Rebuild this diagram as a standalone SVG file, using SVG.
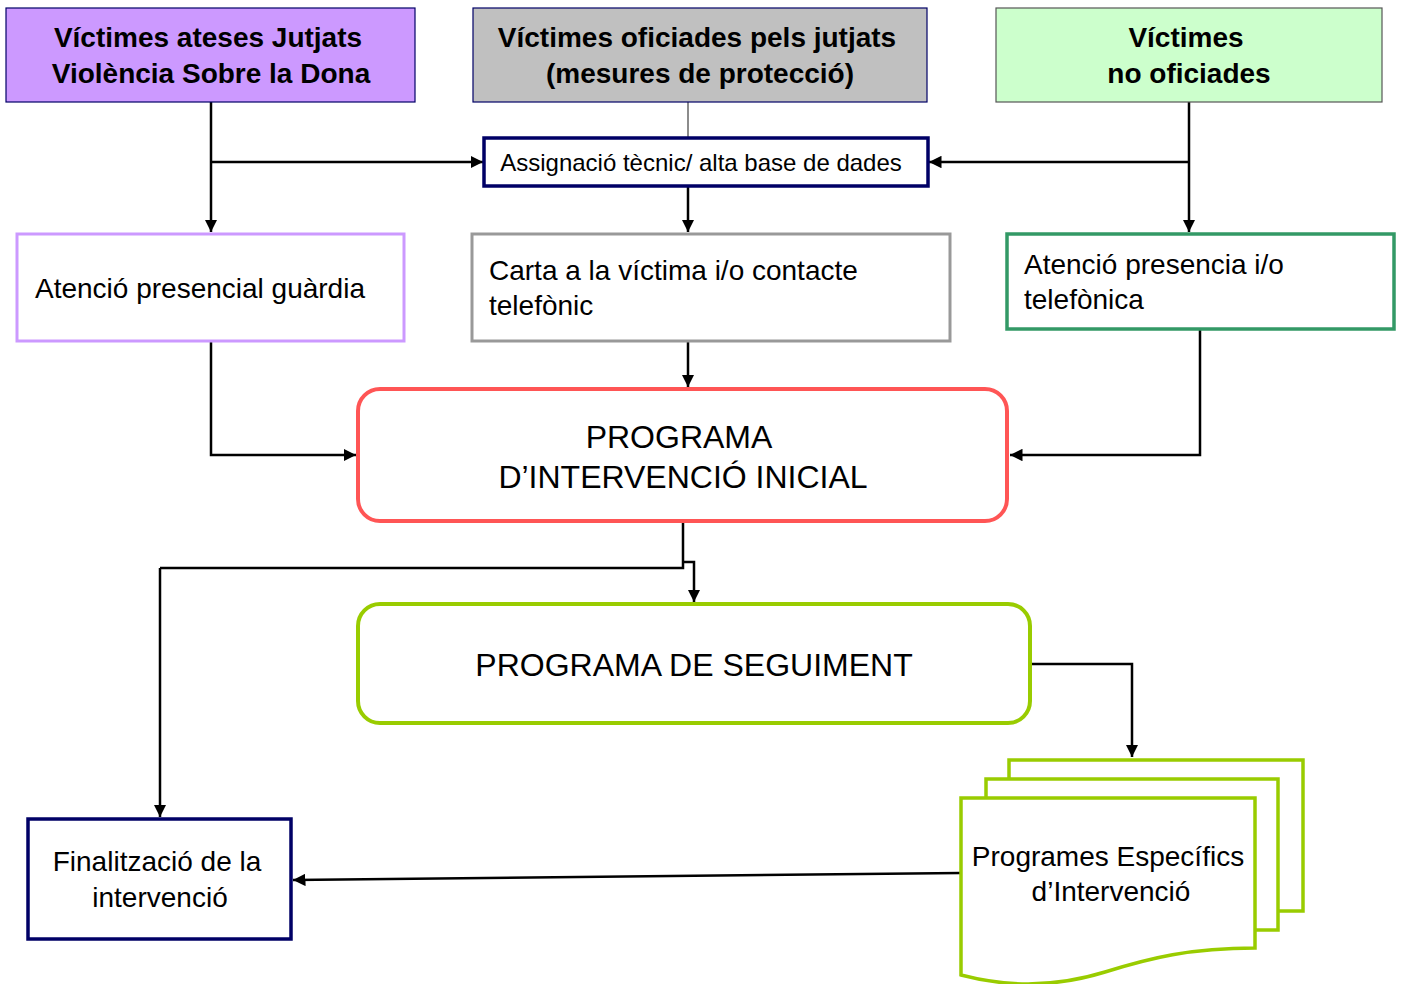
<svg xmlns="http://www.w3.org/2000/svg" width="1403" height="984" viewBox="0 0 1403 984">
<defs>
<marker id="ah" viewBox="0 0 10 10" refX="10" refY="5" markerWidth="5" markerHeight="5" orient="auto" markerUnits="strokeWidth">
<path d="M0,0 L10,5 L0,10 Z" fill="#000"/>
</marker>
<style>
text{font-family:"Liberation Sans",Arial,sans-serif;fill:#000}
.hd{font-size:28px;font-weight:bold;text-anchor:middle}
.t24{font-size:28px}
.big{font-size:32px;text-anchor:middle}
.c{fill:none;stroke:#000;stroke-width:2.5}
.ca{fill:none;stroke:#000;stroke-width:2.5;marker-end:url(#ah)}
</style>
</defs>
<rect width="1403" height="984" fill="#fff"/>
<g id="connectors">
<line x1="688" y1="102" x2="688" y2="138" stroke="#666" stroke-width="1.5"/>
<polyline class="ca" points="211,102 211,232"/>
<polyline class="ca" points="211,162 483,162"/>
<polyline class="ca" points="1189,102 1189,232"/>
<polyline class="ca" points="1189,162 929,162"/>
<polyline class="ca" points="688,186 688,232"/>
<polyline class="ca" points="211,341 211,455 356,455"/>
<polyline class="ca" points="688,341 688,387"/>
<polyline class="ca" points="1200,329 1200,455 1010,455"/>
<polyline class="c" points="683,521 683,568 160,568"/>
<polyline class="ca" points="160,568 160,817"/>
<polyline class="ca" points="683,562 694,562 694,602"/>
<polyline class="ca" points="1030,664 1132,664 1132,757"/>
<polyline class="ca" points="961,873 293,880"/>
</g>
<g id="n_victimes_ateses">
<rect x="6" y="8" width="409" height="94" fill="#CC99FF" stroke="#000066" stroke-width="1.2"/>
<text class="hd" x="208" y="47">Víctimes ateses Jutjats</text>
<text class="hd" x="211" y="83">Violència Sobre la Dona</text>
</g>
<g id="n_victimes_oficiades">
<rect x="473" y="8" width="454" height="94" fill="#C0C0C0" stroke="#000066" stroke-width="1.2"/>
<text class="hd" x="697" y="47">Víctimes oficiades pels jutjats</text>
<text class="hd" x="700" y="83">(mesures de protecció)</text>
</g>
<g id="n_victimes_no">
<rect x="996" y="8" width="386" height="94" fill="#CCFFCC" stroke="#555" stroke-width="1.2"/>
<text class="hd" x="1186" y="47">Víctimes</text>
<text class="hd" x="1189" y="83">no oficiades</text>
</g>
<g id="n_assignacio">
<rect x="484" y="138" width="444" height="48" fill="#fff" stroke="#000066" stroke-width="3.5"/>
<text x="701" y="171" font-size="24" text-anchor="middle">Assignació tècnic/ alta base de dades</text>
</g>
<g id="n_atencio_guardia">
<rect x="17" y="234" width="387" height="107" fill="#fff" stroke="#CC99FF" stroke-width="3"/>
<text class="t24" x="35" y="298">Atenció presencial guàrdia</text>
</g>
<g id="n_carta">
<rect x="472" y="234" width="478" height="107" fill="#fff" stroke="#999" stroke-width="3"/>
<text class="t24" x="489" y="280">Carta a la víctima i/o contacte</text>
<text class="t24" x="489" y="315">telefònic</text>
</g>
<g id="n_atencio_presencia">
<rect x="1007" y="234" width="387" height="95" fill="#fff" stroke="#339966" stroke-width="3.5"/>
<text class="t24" x="1024" y="274">Atenció presencia i/o</text>
<text class="t24" x="1024" y="309">telefònica</text>
</g>
<g id="n_programa_inicial">
<rect x="358" y="389" width="649" height="132" rx="22" fill="#fff" stroke="#FF5555" stroke-width="4"/>
<text class="big" x="679" y="448">PROGRAMA</text>
<text class="big" x="683" y="488">D’INTERVENCIÓ INICIAL</text>
</g>
<g id="n_seguiment">
<rect x="358" y="604" width="672" height="119" rx="22" fill="#fff" stroke="#99CC00" stroke-width="4"/>
<text class="big" x="694" y="676">PROGRAMA DE SEGUIMENT</text>
</g>
<g id="n_programes_especifics">
<rect x="1009" y="760" width="294" height="151" fill="#fff" stroke="#99CC00" stroke-width="3.5"/>
<rect x="986" y="779" width="292" height="151" fill="#fff" stroke="#99CC00" stroke-width="3.5"/>
<path d="M961,798 H1255 V948 C1190,948 1150,958 1105,972 C1060,986 1010,988 961,975 Z" fill="#fff" stroke="#99CC00" stroke-width="3.5"/>
<text x="1108" y="866" font-size="28" text-anchor="middle">Programes Específics</text>
<text x="1111" y="901" font-size="28" text-anchor="middle">d’Intervenció</text>
</g>
<g id="n_finalitzacio">
<rect x="28" y="819" width="263" height="120" fill="#fff" stroke="#000066" stroke-width="3.5"/>
<text x="157" y="871" font-size="28" text-anchor="middle">Finalització de la</text>
<text x="160" y="907" font-size="28" text-anchor="middle">intervenció</text>
</g>
</svg>
